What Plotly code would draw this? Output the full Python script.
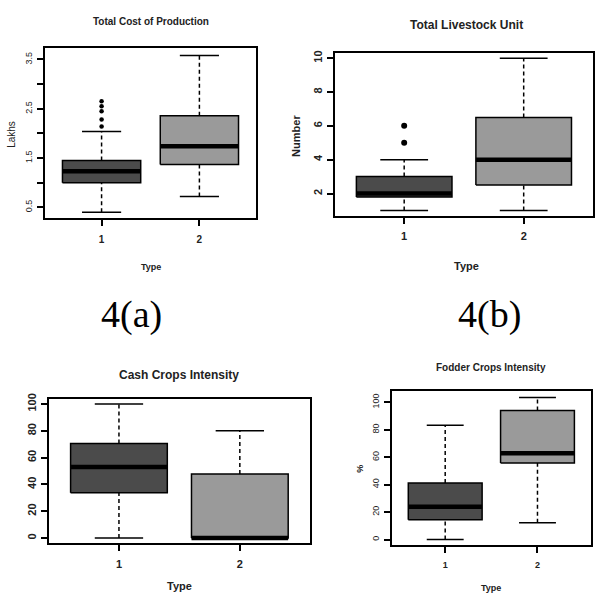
import plotly.graph_objects as go

# ---- data -----------------------------------------------------------------
groups = [1, 2]

cost_q1 = [1.00, 1.37]
cost_med = [1.23, 1.74]
cost_q3 = [1.45, 2.36]
cost_lo = [0.40, 0.72]
cost_hi = [2.04, 3.58]
cost_out = [[2.14, 2.28, 2.45, 2.55, 2.65], []]

lsu_q1 = [1.8, 2.5]
lsu_med = [2.0, 4.0]
lsu_q3 = [3.0, 6.5]
lsu_lo = [1.0, 1.0]
lsu_hi = [4.0, 10.0]
lsu_out = [[5.0, 6.0], []]

cash_q1 = [33.8, 0.0]
cash_med = [53.0, 0.0]
cash_q3 = [70.6, 47.8]
cash_lo = [0.0, 0.0]
cash_hi = [100.0, 80.0]
cash_out = [[], []]

fod_q1 = [14.5, 55.8]
fod_med = [23.9, 63.0]
fod_q3 = [41.3, 94.0]
fod_lo = [0.0, 12.3]
fod_hi = [83.3, 103.6]
fod_out = [[], []]

cost_ticks = [0.5, 1.0, 1.5, 2.0, 2.5, 3.0, 3.5]
cost_ticktext = ["0.5", "", "1.5", "", "2.5", "", "3.5"]
lsu_ticks = [2, 4, 6, 8, 10]
pct_ticks = [0, 20, 40, 60, 80, 100]

fills = ["#4b4b4b", "#9a9a9a"]
HALF = 0.4   # half box width (x units)

FONT = "Liberation Sans, Arial, sans-serif"

fig = go.Figure()


def add_boxes(ax, q1, med, q3, lo, hi, outs, dot):
    xa, ya = ("x" + ax, "y" + ax)
    for i, g in enumerate(groups):
        # dashed whiskers
        fig.add_trace(go.Scatter(
            x=[g, g, None, g, g], y=[q3[i], hi[i], None, lo[i], q1[i]],
            mode="lines", line=dict(color="black", width=1.5, dash="4px,3px"),
            xaxis=xa, yaxis=ya, showlegend=False, hoverinfo="skip"))
        # staples
        fig.add_trace(go.Scatter(
            x=[g - HALF / 2, g + HALF / 2, None, g - HALF / 2, g + HALF / 2],
            y=[hi[i], hi[i], None, lo[i], lo[i]],
            mode="lines", line=dict(color="black", width=1.5),
            xaxis=xa, yaxis=ya, showlegend=False, hoverinfo="skip"))
        # box
        fig.add_trace(go.Scatter(
            x=[g - HALF, g + HALF, g + HALF, g - HALF, g - HALF],
            y=[q1[i], q1[i], q3[i], q3[i], q1[i]],
            mode="lines", fill="toself", fillcolor=fills[i],
            line=dict(color="black", width=1.5),
            xaxis=xa, yaxis=ya, showlegend=False, hoverinfo="skip"))
        # median
        fig.add_trace(go.Scatter(
            x=[g - HALF, g + HALF], y=[med[i], med[i]],
            mode="lines", line=dict(color="black", width=4.5),
            xaxis=xa, yaxis=ya, showlegend=False, hoverinfo="skip"))
        if outs[i]:
            fig.add_trace(go.Scatter(
                x=[g] * len(outs[i]), y=outs[i], mode="markers",
                marker=dict(color="black", size=dot),
                xaxis=xa, yaxis=ya, showlegend=False, hoverinfo="skip"))


add_boxes("", cost_q1, cost_med, cost_q3, cost_lo, cost_hi, cost_out, 4.5)
add_boxes("2", lsu_q1, lsu_med, lsu_q3, lsu_lo, lsu_hi, lsu_out, 6)
add_boxes("3", cash_q1, cash_med, cash_q3, cash_lo, cash_hi, cash_out, 6)
add_boxes("4", fod_q1, fod_med, fod_q3, fod_lo, fod_hi, fod_out, 5)

W, H = 595, 594


def dom_x(a, b):
    return [a / W, b / W]


def dom_y(top, bottom):
    return [1 - bottom / H, 1 - top / H]


def xaxis(anchor, dom, fs, stand, bold):
    return dict(domain=dom, anchor=anchor, range=[0.42, 2.58],
                tickvals=groups,
                ticktext=[f"<b>{g}</b>" if bold else str(g) for g in groups],
                ticks="outside", ticklen=6, tickwidth=1.5, tickcolor="black",
                ticklabelstandoff=stand,
                showline=True, linewidth=1.8, linecolor="black", mirror=True,
                showgrid=False, zeroline=False,
                tickfont=dict(family=FONT, size=fs, color="#222"))


def yaxis(anchor, dom, rng, tv, tt, fs, stand, bold):
    return dict(domain=dom, anchor=anchor, range=rng,
                tickvals=tv,
                ticktext=[f"<b>{t}</b>" if (bold and t) else t for t in tt],
                tickangle=-90,
                ticks="outside", ticklen=6, tickwidth=1.5, tickcolor="black",
                ticklabelstandoff=stand,
                showline=True, linewidth=1.8, linecolor="black", mirror=True,
                showgrid=False, zeroline=False,
                tickfont=dict(family=FONT, size=fs, color="#222"))


fig.update_layout(
    width=W, height=H,
    margin=dict(l=0, r=0, t=0, b=0),
    paper_bgcolor="white", plot_bgcolor="white",
    xaxis=xaxis("y", dom_x(45, 257), 10, 5, True),
    yaxis=yaxis("x", dom_y(43, 215), [0.28, 3.74], cost_ticks, cost_ticktext,
                9, 1, False),
    xaxis2=xaxis("y2", dom_x(336, 595), 11, 3, True),
    yaxis2=yaxis("x2", dom_y(48, 213), [0.66, 10.33], lsu_ticks,
                 [str(v) for v in lsu_ticks], 11, 1, True),
    xaxis3=xaxis("y3", dom_x(49, 311), 11, 3, True),
    yaxis3=yaxis("x3", dom_y(397, 543), [-4, 104], pct_ticks,
                 [str(v) for v in pct_ticks], 11, 1, True),
    xaxis4=xaxis("y4", dom_x(393, 593), 9, 4, True),
    yaxis4=yaxis("x4", dom_y(389, 545), [-4.3, 108.5], pct_ticks,
                 [str(v) for v in pct_ticks], 9, 1, False),
)


def label(text, x, y, size, bold=False, angle=0, family=FONT, color="#222"):
    fig.add_annotation(
        text=f"<b>{text}</b>" if bold else text,
        x=x / W, y=1 - y / H, xref="paper", yref="paper",
        xanchor="center", yanchor="middle", showarrow=False, textangle=angle,
        font=dict(family=family, size=size, color=color))


# panel titles
label("Total Cost of Production", 152, 17, 10, bold=True)
label("Total Livestock Unit", 468, 20, 12, bold=True)
label("Cash Crops Intensity", 180, 373, 12, bold=True)
label("Fodder Crops Intensity", 493, 366, 10, bold=True)

# axis labels
label("Type", 152, 264, 9, bold=True)
label("Type", 468, 263, 11, bold=True)
label("Type", 180, 586, 11, bold=True)
label("Type", 493, 588, 9, bold=True)
label("Lakhs", 12, 130, 10, angle=-90)
label("Number", 297, 132, 11, bold=True, angle=-90)
label("%", 361, 468, 9, bold=True, angle=-90)

# figure part labels
SERIF = "Liberation Serif, Times New Roman, serif"
label("4(a)", 132, 312, 38, family=SERIF, color="black")
label("4(b)", 491, 312, 38, family=SERIF, color="black")

fig.write_html("out.html")
